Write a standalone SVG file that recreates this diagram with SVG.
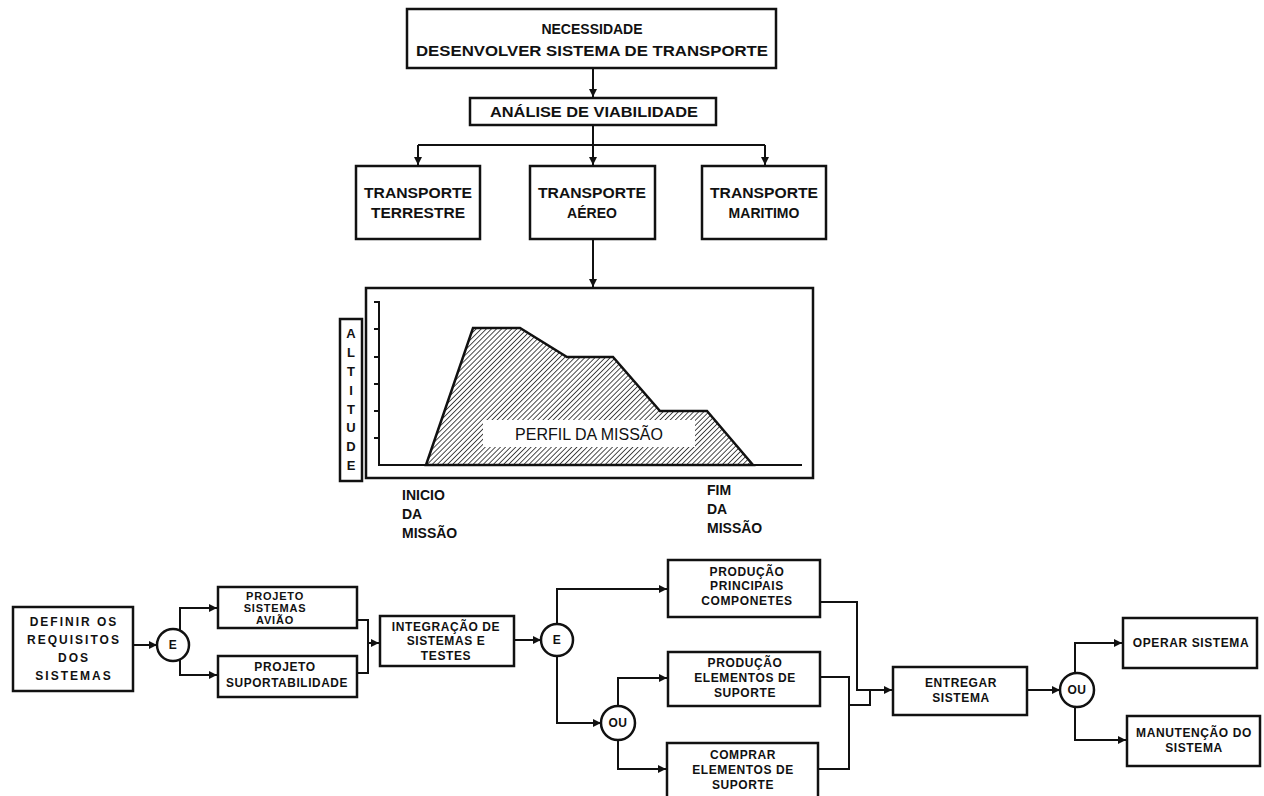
<svg xmlns="http://www.w3.org/2000/svg" width="1264" height="796" viewBox="0 0 1264 796">
<style>
.box{fill:#fff;stroke:#111;stroke-width:2.5}
.ln{fill:none;stroke:#111;stroke-width:2}
.t{font-family:"Liberation Sans",Arial,sans-serif;font-weight:bold;fill:#111;text-anchor:middle;dominant-baseline:central}
.s{font-size:12px;letter-spacing:0.6px}
.w{font-size:12px;letter-spacing:2px}
.m{font-size:14px}
.r{font-weight:normal}
.l{text-anchor:start}
</style>
<defs>
<marker id="arr" viewBox="0 0 10 10" refX="10" refY="5" markerWidth="9" markerHeight="8" markerUnits="userSpaceOnUse" orient="auto">
<path d="M0,0 L10,5 L0,10 z" fill="#111"/>
</marker>
<pattern id="hatch" width="3.6" height="3.6" patternUnits="userSpaceOnUse" patternTransform="rotate(45)">
<line x1="0" y1="0" x2="0" y2="3.6" stroke="#111" stroke-width="1.5"/>
</pattern>
</defs>

<g id="connectors">
<path class="ln" d="M593,68 V97" marker-end="url(#arr)"/>
<path class="ln" d="M593,125 V145 M418,145 H765"/>
<path class="ln" d="M418,145 V165" marker-end="url(#arr)"/>
<path class="ln" d="M593,145 V165" marker-end="url(#arr)"/>
<path class="ln" d="M765,145 V165" marker-end="url(#arr)"/>
<path class="ln" d="M593,239 V287" marker-end="url(#arr)"/>
<path class="ln" d="M133,645 H157" marker-end="url(#arr)"/>
<path class="ln" d="M180,631 V608 H217" marker-end="url(#arr)"/>
<path class="ln" d="M180,659 V675 H217" marker-end="url(#arr)"/>
<path class="ln" d="M358,620 H368 V673 H358"/>
<path class="ln" d="M368,643 H379" marker-end="url(#arr)"/>
<path class="ln" d="M514,640 H541" marker-end="url(#arr)"/>
<path class="ln" d="M557,624 V589 H667" marker-end="url(#arr)"/>
<path class="ln" d="M557,656 V723 H601" marker-end="url(#arr)"/>
<path class="ln" d="M618,706 V678 H667" marker-end="url(#arr)"/>
<path class="ln" d="M618,740 V769 H666" marker-end="url(#arr)"/>
<path class="ln" d="M820,602 H857 V690 H892" marker-end="url(#arr)"/>
<path class="ln" d="M820,677 H849 V769 H818"/>
<path class="ln" d="M849,705 H870 V690"/>
<path class="ln" d="M1027,690 H1060" marker-end="url(#arr)"/>
<path class="ln" d="M1075,673 V643 H1122" marker-end="url(#arr)"/>
<path class="ln" d="M1075,707 V740 H1126" marker-end="url(#arr)"/>
</g>

<g id="n-necessidade">
<rect class="box" x="407" y="9" width="369" height="59"/>
<text class="t" x="592" y="29" font-size="14">NECESSIDADE</text>
<text class="t" x="592" y="50" font-size="15" textLength="352" lengthAdjust="spacingAndGlyphs">DESENVOLVER SISTEMA DE TRANSPORTE</text>
</g>

<g id="n-analise">
<rect class="box" x="470" y="98" width="246" height="27"/>
<text class="t" x="594" y="112" font-size="14" textLength="208" lengthAdjust="spacingAndGlyphs">ANÁLISE DE VIABILIDADE</text>
</g>

<g id="n-terrestre">
<rect class="box" x="356" y="166" width="124" height="73"/>
<text class="t m" x="418" y="193" textLength="108" lengthAdjust="spacingAndGlyphs">TRANSPORTE</text>
<text class="t m" x="418" y="213" textLength="94" lengthAdjust="spacingAndGlyphs">TERRESTRE</text>
</g>

<g id="n-aereo">
<rect class="box" x="530" y="166" width="125" height="73"/>
<text class="t m" x="592" y="193" textLength="108" lengthAdjust="spacingAndGlyphs">TRANSPORTE</text>
<text class="t m" x="592" y="213">AÉREO</text>
</g>

<g id="n-maritimo">
<rect class="box" x="702" y="166" width="124" height="73"/>
<text class="t m" x="764" y="193" textLength="108" lengthAdjust="spacingAndGlyphs">TRANSPORTE</text>
<text class="t m" x="764" y="213">MARITIMO</text>
</g>

<g id="n-chart">
<rect class="box" x="366" y="288" width="447" height="190"/>
<polygon points="426,465 473,328 520,328 567,357 613,357 660,411 707,411 753,465" fill="url(#hatch)" stroke="#111" stroke-width="2.5"/>
<path class="ln" d="M379,302 V465 H802"/>
<path class="ln" d="M374,302 H380 M374,329 H380 M374,357 H380 M374,384 H380 M374,411 H380 M374,438 H380"/>
<rect x="483" y="420" width="212" height="27" fill="#fff"/>
<text class="t r" x="589" y="434" font-size="16">PERFIL DA MISSÃO</text>
</g>

<g id="n-altitude">
<rect class="box" x="340" y="319" width="22" height="162"/>
<text class="t" x="351" y="333" font-size="13">A</text>
<text class="t" x="351" y="352" font-size="13">L</text>
<text class="t" x="351" y="371" font-size="13">T</text>
<text class="t" x="351" y="390" font-size="13">I</text>
<text class="t" x="351" y="409" font-size="13">T</text>
<text class="t" x="351" y="427" font-size="13">U</text>
<text class="t" x="351" y="446" font-size="13">D</text>
<text class="t" x="351" y="465" font-size="13">E</text>
</g>

<g id="n-inicio">
<text class="t l m" x="402" y="495">INICIO</text>
<text class="t l m" x="402" y="514">DA</text>
<text class="t l m" x="402" y="533">MISSÃO</text>
</g>

<g id="n-fim">
<text class="t l m" x="707" y="490">FIM</text>
<text class="t l m" x="707" y="509">DA</text>
<text class="t l m" x="707" y="528">MISSÃO</text>
</g>

<g id="n-definir">
<rect class="box" x="13" y="607" width="120" height="84"/>
<text class="t w" x="74" y="622">DEFINIR OS</text>
<text class="t w" x="74" y="640">REQUISITOS</text>
<text class="t w" x="74" y="658">DOS</text>
<text class="t w" x="74" y="676">SISTEMAS</text>
</g>

<g id="n-e1">
<circle class="box" cx="173" cy="645" r="16"/>
<text class="t s" x="173" y="645">E</text>
</g>

<g id="n-proj-sist">
<rect class="box" x="218" y="587" width="139" height="41"/>
<text class="t" x="275" y="596" font-size="11" letter-spacing="0.8">PROJETO</text>
<text class="t" x="275" y="608" font-size="11" letter-spacing="0.8">SISTEMAS</text>
<text class="t" x="275" y="620" font-size="11" letter-spacing="0.8">AVIÃO</text>
</g>

<g id="n-proj-sup">
<rect class="box" x="218" y="656" width="139" height="41"/>
<text class="t s" x="285" y="667">PROJETO</text>
<text class="t s" x="287" y="683" textLength="122" lengthAdjust="spacingAndGlyphs">SUPORTABILIDADE</text>
</g>

<g id="n-integracao">
<rect class="box" x="380" y="616" width="134" height="50"/>
<text class="t s" x="446" y="627">INTEGRAÇÃO DE</text>
<text class="t s" x="446" y="641">SISTEMAS E</text>
<text class="t s" x="446" y="656">TESTES</text>
</g>

<g id="n-e2">
<circle class="box" cx="557" cy="640" r="16"/>
<text class="t s" x="557" y="640">E</text>
</g>

<g id="n-prod-princ">
<rect class="box" x="668" y="560" width="152" height="57"/>
<text class="t s" x="747" y="572">PRODUÇÃO</text>
<text class="t s" x="747" y="586">PRINCIPAIS</text>
<text class="t s" x="747" y="601">COMPONETES</text>
</g>

<g id="n-ou1">
<circle class="box" cx="618" cy="723" r="17"/>
<text class="t s" x="618" y="723">OU</text>
</g>

<g id="n-prod-elem">
<rect class="box" x="668" y="652" width="152" height="54"/>
<text class="t s" x="745" y="663">PRODUÇÃO</text>
<text class="t s" x="745" y="678">ELEMENTOS DE</text>
<text class="t s" x="745" y="693">SUPORTE</text>
</g>

<g id="n-comprar">
<rect class="box" x="667" y="743" width="151" height="60"/>
<text class="t s" x="743" y="755">COMPRAR</text>
<text class="t s" x="743" y="770">ELEMENTOS DE</text>
<text class="t s" x="743" y="785">SUPORTE</text>
</g>

<g id="n-entregar">
<rect class="box" x="893" y="667" width="134" height="48"/>
<text class="t s" x="961" y="683">ENTREGAR</text>
<text class="t s" x="961" y="698">SISTEMA</text>
</g>

<g id="n-ou2">
<circle class="box" cx="1077" cy="690" r="17"/>
<text class="t s" x="1077" y="690">OU</text>
</g>

<g id="n-operar">
<rect class="box" x="1123" y="618" width="134" height="50"/>
<text class="t s" x="1191" y="643">OPERAR SISTEMA</text>
</g>

<g id="n-manut">
<rect class="box" x="1127" y="716" width="133" height="50"/>
<text class="t s" x="1194" y="733">MANUTENÇÃO DO</text>
<text class="t s" x="1194" y="748">SISTEMA</text>
</g>
</svg>
